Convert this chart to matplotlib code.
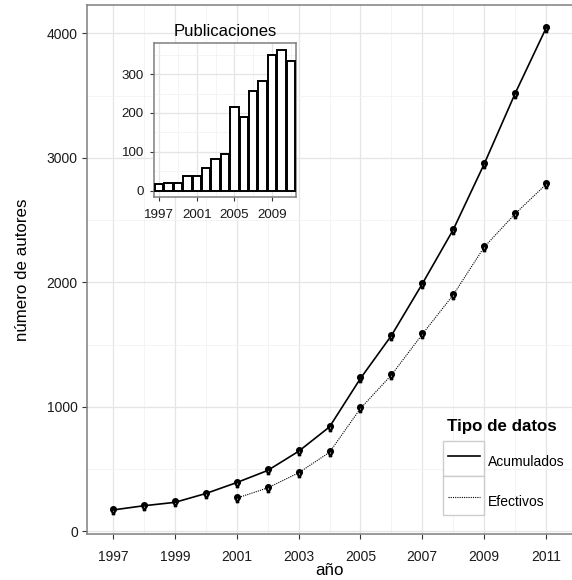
import numpy as np
import matplotlib
matplotlib.use("Agg")
import matplotlib.pyplot as plt
from matplotlib.path import Path
from matplotlib.patches import Rectangle
from matplotlib.lines import Line2D

plt.rcParams['font.family'] = ['Liberation Sans', 'DejaVu Sans']

# Datos
anios = np.arange(1997, 2012)
acumulados = [172, 206, 233, 304, 392, 489, 643, 839, 1228, 1572, 1988, 2423, 2950, 3516, 4041]
anios_efectivos = np.arange(2001, 2012)
efectivos = [267, 349, 470, 635, 987, 1255, 1583, 1899, 2283, 2550, 2787]
publicaciones = [17, 19, 19, 38, 39, 59, 81, 95, 216, 190, 257, 281, 350, 362, 333]

W, H = 572, 580
fig = plt.figure(figsize=(W / 100, H / 100), dpi=100)


def px(x, y):
    return x / W, 1 - y / H


# marcador: punto con un trazo corto hacia abajo
circ = Path.circle((0, 0.25), 0.75)
stem = Path([(-0.3, 0.2), (0.3, 0.2), (0.3, -1.1), (-0.3, -1.1), (-0.3, 0.2)],
            [Path.MOVETO, Path.LINETO, Path.LINETO, Path.LINETO, Path.CLOSEPOLY])
marca = Path.make_compound_path(circ, stem)

grey_major = '#e5e5e5'
grey_minor = '#f3f3f3'
borde = '#7f7f7f'

# Panel principal
ax = fig.add_axes([87 / W, 1 - 534 / H, (W - 87) / W, (534 - 5.3) / H])
ax.plot(anios, acumulados, color='black', lw=1.2, marker=marca, ms=6, zorder=3)
ax.plot(anios_efectivos, efectivos, color='black', lw=0.8, ls=(0, (1, 1)),
        marker=marca, ms=6, zorder=3)

ax.set_xlim(1996.16, 2011.84)
ax.set_ylim(-21, 4225)
ax.set_xticks(np.arange(1997, 2012, 2))
ax.set_xticks(np.arange(1998, 2011, 2), minor=True)
ax.set_yticks(np.arange(0, 4001, 1000))
ax.set_yticks(np.arange(500, 4001, 1000), minor=True)
ax.grid(True, which='major', color=grey_major, lw=0.9)
ax.grid(True, which='minor', color=grey_minor, lw=0.6)
ax.set_axisbelow(True)
ax.tick_params(which='major', length=3.6, width=0.8, color='#333333',
               labelsize=10, labelcolor='#1a1a1a')
ax.tick_params(axis='x', pad=8)
ax.tick_params(axis='y', pad=3)
ax.tick_params(which='minor', length=0)
for s in ['left', 'bottom', 'top']:
    ax.spines[s].set_color(borde)
    ax.spines[s].set_linewidth(1.1)
ax.spines['right'].set_visible(False)
ax.set_xlabel('año', fontsize=12.2, labelpad=-1)
ax.set_ylabel('número de autores', fontsize=12.2, labelpad=12)

# Leyenda manual
fig.text(*px(447, 427), 'Tipo de datos', fontsize=12.2, fontweight='bold',
         ha='left', va='center')
for (y0, y1, ly, ty, estilo, lw, txt) in [
        (441, 476, 455.7, 461.7, '-', 1.2, 'Acumulados'),
        (476, 515, 497.3, 501.7, (0, (1, 1)), 0.8, 'Efectivos')]:
    x0, yb = px(443, y1)
    w = (484 - 443) / W
    h = (y1 - y0) / H
    fig.patches.append(Rectangle((x0, yb), w, h, transform=fig.transFigure,
                                 facecolor='white', edgecolor='#cccccc', lw=1.0))
    fig.lines.append(Line2D([448 / W, 480 / W], [1 - ly / H] * 2,
                            transform=fig.transFigure, color='black', lw=lw, ls=estilo))
    fig.text(*px(488, ty), txt, fontsize=10, ha='left', va='center')

# Recuadro de publicaciones
ins = fig.add_axes([154 / W, 1 - 196.7 / H, (296 - 154) / W, (196.7 - 42.5) / H])
ins.bar(anios, publicaciones, width=0.9, facecolor='white', edgecolor='black',
        lw=1.4, zorder=3)
ins.set_xlim(1996.44, 2011.55)
ins.set_ylim(-15, 381)
ins.set_xticks([1997, 2001, 2005, 2009])
ins.set_xticks([1999, 2003, 2007, 2011], minor=True)
ins.set_yticks([0, 100, 200, 300])
ins.set_yticks([50, 150, 250, 350], minor=True)
ins.grid(True, which='major', color=grey_major, lw=0.9)
ins.grid(True, which='minor', color=grey_minor, lw=0.6)
ins.set_axisbelow(True)
ins.tick_params(which='major', length=3.2, width=0.8, color='#333333',
                labelsize=9.6, labelcolor='#1a1a1a')
ins.tick_params(axis='x', pad=6)
ins.tick_params(axis='y', pad=4)
ins.tick_params(which='minor', length=0)
for s in ins.spines.values():
    s.set_color(borde)
    s.set_linewidth(1.1)
ins.set_title('Publicaciones', fontsize=12, pad=5)

fig.savefig('out.png', dpi=100)
